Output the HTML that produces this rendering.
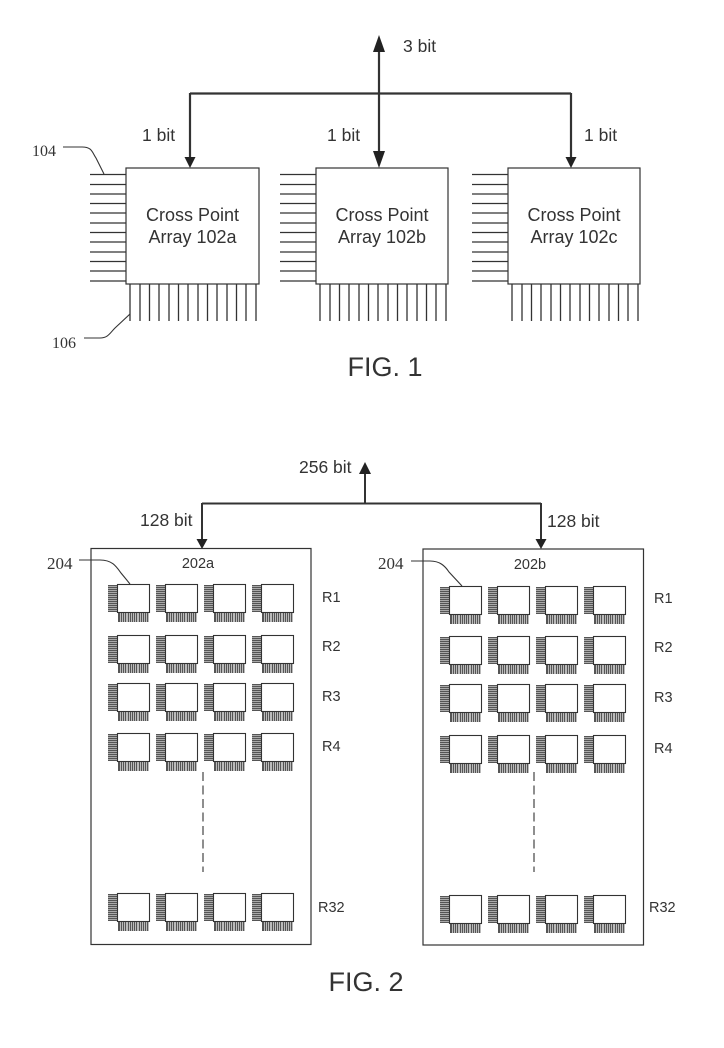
<!DOCTYPE html>
<html><head><meta charset="utf-8"><style>
html,body{margin:0;padding:0;background:#fff;width:724px;height:1048px;overflow:hidden}
svg{display:block}
text{font-family:"Liberation Sans",sans-serif;fill:#333}
.s{font-family:"Liberation Serif",serif}
</style></head><body>
<svg width="724" height="1048" viewBox="0 0 724 1048" xmlns="http://www.w3.org/2000/svg">
<defs>
<g id="hp" stroke="#333" stroke-width="1.3" fill="none">
<path d="M0 174.500H36M0 184.500H36M0 194H36M0 203.500H36M0 213H36M0 223H36M0 232.500H36M0 242H36M0 252H36M0 261.500H36M0 271H36M0 281H36"/>
<path d="M40 284V321M50 284V321M59.500 284V321M69 284V321M79 284V321M88.500 284V321M98 284V321M108 284V321M117.500 284V321M127 284V321M137 284V321M146.500 284V321M156 284V321M166 284V321"/>
</g>
<g id="chip">
<g shape-rendering="crispEdges">
<rect x="-9" y="1" width="9" height="27" fill="#aaa"/>
<path d="M-9 1.500H0M-9 3.500H0M-9 5.500H0M-9 7.500H0M-9 9.500H0M-9 11.500H0M-9 13.500H0M-9 15.500H0M-9 17.500H0M-9 19.500H0M-9 21.500H0M-9 23.500H0M-9 25.500H0M-9 27.500H0" stroke="#555" stroke-width="1"/>
<rect x="1" y="28" width="31" height="10" fill="#bbb"/>
<path d="M1.500 28V38M2.500 28V38M4.500 28V38M6.500 28V38M8.500 28V38M11.500 28V38M13.500 28V38M15.500 28V38M17.500 28V38M19.500 28V38M22.500 28V38M24.500 28V38M26.500 28V38M28.500 28V38M30.500 28V38" stroke="#555" stroke-width="1"/>
</g>
<rect x="0.500" y="0.500" width="32" height="28" fill="#fff" stroke="#333" stroke-width="1.100"/>
</g>
<g id="row"><use href="#chip" x="0"/><use href="#chip" x="48"/><use href="#chip" x="96"/><use href="#chip" x="144"/></g>
</defs>

<g fill="none" stroke="#333">
<path d="M379 45V160M190 93.500H571M190 93V160M571 93V160" stroke-width="2.200"/>
</g>
<g fill="#222">
<path d="M379 35L385 52H373Z"/>
<path d="M373 151H385L379 168Z"/>
<path d="M184.500 157H195.500L190 168Z"/>
<path d="M565.500 157H576.500L571 168Z"/>
</g>
<g fill="#fff" stroke="#333" stroke-width="1.200">
<rect x="126" y="168" width="133" height="116"/>
<rect x="316" y="168" width="132" height="116"/>
<rect x="508" y="168" width="132" height="116"/>
</g>
<use href="#hp" x="90"/><use href="#hp" x="280"/><use href="#hp" x="472"/>
<path d="M63 147H82C92 147 92 152 96 158L104 174" fill="none" stroke="#333" stroke-width="1.100"/>
<path d="M84 338H100C108 338 110 333 115 328L130 314" fill="none" stroke="#333" stroke-width="1.100"/>

<g font-size="18" text-anchor="middle">
<text x="192.500" y="221">Cross Point</text><text x="192.500" y="243">Array 102a</text>
<text x="382" y="221">Cross Point</text><text x="382" y="243">Array 102b</text>
<text x="574" y="221">Cross Point</text><text x="574" y="243">Array 102c</text>
</g>
<g font-size="17.500">
<text x="403" y="52">3 bit</text>
<text x="142" y="141">1 bit</text>
<text x="327" y="141">1 bit</text>
<text x="584" y="141">1 bit</text>
</g>
<text class="s" x="32" y="156" font-size="16">104</text>
<text class="s" x="52" y="348" font-size="16">106</text>
<text x="385" y="376" font-size="27" text-anchor="middle">FIG. 1</text>

<path d="M365 472V504M202 503.500H541M202 503V540M541 503V540" fill="none" stroke="#333" stroke-width="2"/>
<g fill="#222">
<path d="M365 462L371 474H359Z"/>
<path d="M196.500 539H207.500L202 549Z"/>
<path d="M535.500 539H546.500L541 549Z"/>
</g>
<rect x="91" y="548.500" width="220" height="396" fill="none" stroke="#333" stroke-width="1.200"/>
<rect x="423" y="549" width="220.500" height="396" fill="none" stroke="#333" stroke-width="1.200"/>

<use href="#row" x="117" y="584"/><use href="#row" x="117" y="635"/><use href="#row" x="117" y="683"/><use href="#row" x="117" y="733"/><use href="#row" x="117" y="893"/>
<use href="#row" x="449" y="586"/><use href="#row" x="449" y="636"/><use href="#row" x="449" y="684"/><use href="#row" x="449" y="735"/><use href="#row" x="449" y="895"/>

<path d="M203 772V872M534 772V872" stroke="#444" stroke-width="1.200" stroke-dasharray="9 4.500" fill="none"/>
<path d="M79 560H100C112 560 116 566 121 573L130 584" fill="none" stroke="#333" stroke-width="1.100"/>
<path d="M411 561H430C440 561 445 566 449 572L462 586" fill="none" stroke="#333" stroke-width="1.100"/>

<g font-size="17.500">
<text x="299" y="473">256 bit</text>
<text x="140" y="526">128 bit</text>
<text x="547" y="527">128 bit</text>
</g>
<g font-size="14.500" text-anchor="middle">
<text x="198" y="568">202a</text>
<text x="530" y="569">202b</text>
</g>
<text class="s" x="47" y="569" font-size="17">204</text>
<text class="s" x="378" y="569" font-size="17">204</text>
<g font-size="14.500">
<text x="322" y="602">R1</text><text x="322" y="651">R2</text><text x="322" y="701">R3</text><text x="322" y="751">R4</text><text x="318" y="912">R32</text>
<text x="654" y="603">R1</text><text x="654" y="652">R2</text><text x="654" y="702">R3</text><text x="654" y="753">R4</text><text x="649" y="912">R32</text>
</g>
<text x="366" y="991" font-size="27" text-anchor="middle">FIG. 2</text>
</svg>
</body></html>
